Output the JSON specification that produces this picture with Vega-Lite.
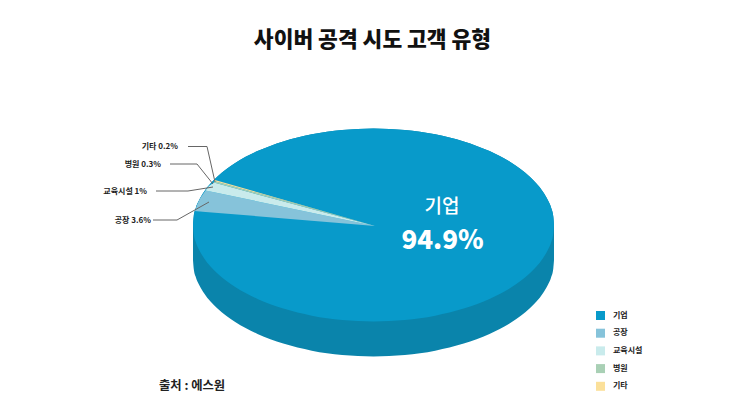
{
  "$schema": "https://vega.github.io/schema/vega-lite/v6.json",
  "width": 745,
  "height": 419,
  "padding": 0,
  "autosize": {"type": "none"},
  "background": "white",
  "datasets": {
    "disc": [
      {"x": 193, "upper": 225, "lower": 225, "base": 260},
      {"x": 193.7, "upper": 216.6, "lower": 233.4, "base": 268.4},
      {"x": 195.7, "upper": 208.2, "lower": 241.8, "base": 276.8},
      {"x": 199.2, "upper": 200, "lower": 250, "base": 285},
      {"x": 203.9, "upper": 192, "lower": 258, "base": 293},
      {"x": 217.2, "upper": 176.75, "lower": 273.25, "base": 308.25},
      {"x": 235.2, "upper": 163, "lower": 287, "base": 322},
      {"x": 257.5, "upper": 151.1, "lower": 298.9, "base": 333.9},
      {"x": 283.25, "upper": 141.4, "lower": 308.6, "base": 343.6},
      {"x": 311.8, "upper": 134.3, "lower": 315.7, "base": 350.7},
      {"x": 342.2, "upper": 130, "lower": 320, "base": 355},
      {"x": 373.5, "upper": 128.5, "lower": 321.5, "base": 356.5},
      {"x": 404.8, "upper": 130, "lower": 320, "base": 355},
      {"x": 435.2, "upper": 134.3, "lower": 315.7, "base": 350.7},
      {"x": 463.75, "upper": 141.4, "lower": 308.6, "base": 343.6},
      {"x": 489.5, "upper": 151.1, "lower": 298.9, "base": 333.9},
      {"x": 511.8, "upper": 163, "lower": 287, "base": 322},
      {"x": 529.8, "upper": 176.75, "lower": 273.25, "base": 308.25},
      {"x": 543.1, "upper": 192, "lower": 258, "base": 293},
      {"x": 547.8, "upper": 200, "lower": 250, "base": 285},
      {"x": 551.3, "upper": 208.2, "lower": 241.8, "base": 276.8},
      {"x": 553.3, "upper": 216.6, "lower": 233.4, "base": 268.4},
      {"x": 554, "upper": 225, "lower": 225, "base": 260}
    ],
    "wedges": [
      {"type": "공장", "x": 195, "upper": 211, "lower": 211},
      {"type": "공장", "x": 197, "upper": 205, "lower": 211.2},
      {"type": "공장", "x": 200, "upper": 198.5, "lower": 211.4},
      {"type": "공장", "x": 205.5, "upper": 190.5, "lower": 211.9},
      {"type": "공장", "x": 375, "upper": 226, "lower": 226},
      {"type": "교육시설", "x": 205.5, "upper": 190.5, "lower": 190.5},
      {"type": "교육시설", "x": 209, "upper": 186, "lower": 191.2},
      {"type": "교육시설", "x": 214, "upper": 182.6, "lower": 192.3},
      {"type": "교육시설", "x": 375, "upper": 226, "lower": 226},
      {"type": "병원", "x": 214, "upper": 180.9, "lower": 182.6},
      {"type": "병원", "x": 375, "upper": 226, "lower": 226},
      {"type": "기타", "x": 214, "upper": 179.8, "lower": 180.9},
      {"type": "기타", "x": 375, "upper": 226, "lower": 226}
    ],
    "leaders": [
      {"type": "기타", "x": 188, "y": 146.5},
      {"type": "기타", "x": 207, "y": 146.5},
      {"type": "기타", "x": 215, "y": 182},
      {"type": "병원", "x": 170, "y": 164},
      {"type": "병원", "x": 197, "y": 164},
      {"type": "병원", "x": 213, "y": 184},
      {"type": "교육시설", "x": 156, "y": 191},
      {"type": "교육시설", "x": 188, "y": 191},
      {"type": "교육시설", "x": 213, "y": 187},
      {"type": "공장", "x": 153, "y": 220},
      {"type": "공장", "x": 177, "y": 220},
      {"type": "공장", "x": 209, "y": 202}
    ],
    "labels": [
      {"label": "기타 0.2%", "x": 178, "y": 146.5},
      {"label": "병원 0.3%", "x": 161, "y": 164.5},
      {"label": "교육시설 1%", "x": 147, "y": 191.5},
      {"label": "공장 3.6%", "x": 151, "y": 220.5}
    ]
  },
  "encoding": {
    "x": {"field": "x", "type": "quantitative", "axis": null, "scale": {"domain": [0, 745], "nice": false, "zero": false}},
    "y": {"field": "y", "type": "quantitative", "axis": null, "stack": null, "scale": {"domain": [0, 419], "reverse": true, "nice": false, "zero": false}}
  },
  "layer": [
    {
      "data": {"name": "disc"},
      "mark": {"type": "area", "interpolate": "monotone", "color": "#0a84ab"},
      "encoding": {
        "y": {"field": "upper", "type": "quantitative", "stack": null},
        "y2": {"field": "base"}
      }
    },
    {
      "data": {"name": "disc"},
      "mark": {"type": "area", "interpolate": "monotone"},
      "encoding": {
        "y": {"field": "upper", "type": "quantitative", "stack": null},
        "y2": {"field": "lower"},
        "color": {
          "datum": "기업",
          "type": "nominal",
          "title": null,
          "scale": {
            "domain": ["기업", "공장", "교육시설", "병원", "기타"],
            "range": ["#089aca", "#86c3da", "#c9ebec", "#a9d0b5", "#fbe09a"]
          },
          "legend": {
            "title": null,
            "orient": "none",
            "legendX": 596,
            "legendY": 311,
            "symbolType": "square",
            "symbolSize": 81,
            "symbolStrokeWidth": 0,
            "labelFont": "Noto Sans CJK KR",
            "labelFontSize": 8,
            "labelFontWeight": "bold",
            "labelColor": "#222222",
            "labelOffset": 8,
            "rowPadding": 8.7,
            "padding": 0
          }
        }
      }
    },
    {
      "data": {"name": "wedges"},
      "mark": {"type": "area"},
      "encoding": {
        "y": {"field": "upper", "type": "quantitative", "stack": null},
        "y2": {"field": "lower"},
        "color": {"field": "type", "type": "nominal", "title": null}
      }
    },
    {
      "data": {"name": "leaders"},
      "mark": {"type": "line", "color": "#666666", "strokeWidth": 1},
      "encoding": {"detail": {"field": "type"}}
    },
    {
      "data": {"name": "labels"},
      "mark": {"type": "text", "align": "right", "baseline": "middle", "font": "Noto Sans CJK KR", "fontSize": 8, "fontWeight": "bold", "color": "#222222"},
      "encoding": {"text": {"field": "label"}}
    },
    {
      "data": {"values": [{"label": "사이버 공격 시도 고객 유형", "x": 372.5, "y": 41}]},
      "mark": {"type": "text", "align": "center", "baseline": "middle", "font": "Noto Sans CJK KR", "fontSize": 21.5, "fontWeight": 900, "color": "#111111"},
      "encoding": {"text": {"field": "label"}}
    },
    {
      "data": {"values": [{"label": "기업", "x": 442, "y": 207}]},
      "mark": {"type": "text", "align": "center", "baseline": "middle", "font": "Noto Sans CJK KR", "fontSize": 19, "fontWeight": 500, "color": "white"},
      "encoding": {"text": {"field": "label"}}
    },
    {
      "data": {"values": [{"label": "94.9%", "x": 442.5, "y": 241}]},
      "mark": {"type": "text", "align": "center", "baseline": "middle", "font": "Noto Sans CJK KR", "fontSize": 26, "fontWeight": 900, "color": "white"},
      "encoding": {"text": {"field": "label"}}
    },
    {
      "data": {"values": [{"label": "출처 : 에스원", "x": 159, "y": 386}]},
      "mark": {"type": "text", "align": "left", "baseline": "middle", "font": "Noto Sans CJK KR", "fontSize": 12.3, "fontWeight": "bold", "color": "#222222"},
      "encoding": {"text": {"field": "label"}}
    }
  ],
  "config": {"view": {"stroke": null}}
}
